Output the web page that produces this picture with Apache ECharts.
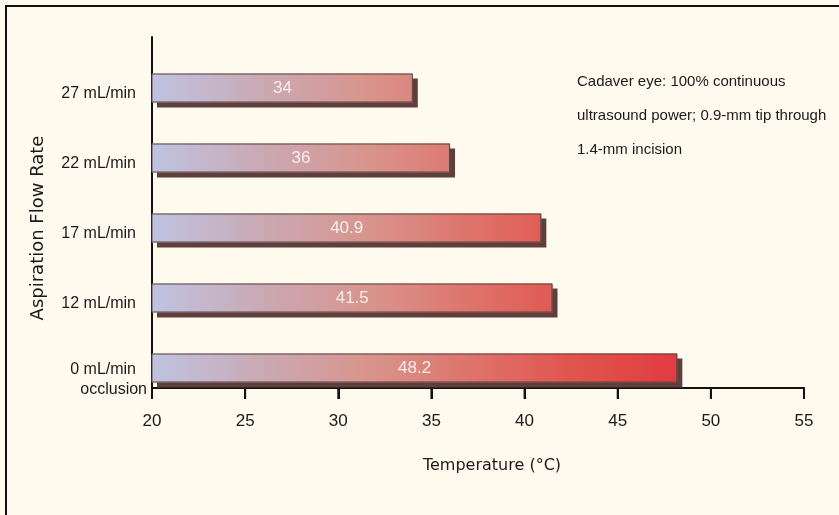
<!DOCTYPE html>
<html>
<head>
<meta charset="utf-8">
<script src="https://cdn.jsdelivr.net/npm/echarts@6/dist/echarts.min.js"></script>
<style>
  html, body { margin: 0; padding: 0; background: #fffaee; }
  #chart { width: 839px; height: 515px; }
</style>
</head>
<body>
<div id="chart"></div>
<script>
// ---- data ----
const categories = ['27 mL/min', '22 mL/min', '17 mL/min', '12 mL/min', '0 mL/min\nocclusion'];
const temperatures = [34, 36, 40.9, 41.5, 48.2];
const xTicks = [20, 25, 30, 35, 40, 45, 50, 55];
const xName = 'Temperature (°C)';
const yName = 'Aspiration Flow Rate';
const noteLines = ['Cadaver eye: 100% continuous', 'ultrasound power; 0.9-mm tip through', '1.4-mm incision'];

const xMin = xTicks[0], xMax = xTicks[xTicks.length - 1], xStep = xTicks[1] - xTicks[0];

// ---- styles ----
const SANS = "'Liberation Sans', Arial, sans-serif";
const DEJAVU = "'DejaVu Sans', sans-serif";
const INK = '#1a1a1a';
const TICK_LEN = 11;

const chart = echarts.init(document.getElementById('chart'), null, { renderer: 'canvas' });

function catLabel(v) {
  return v.split('\n').map((s, i) => (i === 0 ? '{a|' + s + '}' : '{b|' + s + '}')).join('\n');
}

const yData = categories.map(c => c.indexOf('\n') >= 0
  ? { value: c, textStyle: { padding: [24, 0, 0, 0] } }
  : c);

const stops = [
  { offset: 0.00, color: '#bec3e0' },
  { offset: 0.10, color: '#c4b7cd' },
  { offset: 0.20, color: '#c9aab4' },
  { offset: 0.30, color: '#d0a0a4' },
  { offset: 0.40, color: '#d7968e' },
  { offset: 0.49, color: '#db8880' },
  { offset: 0.58, color: '#dc7870' },
  { offset: 0.68, color: '#df6860' },
  { offset: 0.78, color: '#e05850' },
  { offset: 0.88, color: '#e04b47' },
  { offset: 1.00, color: '#e23b40' }
];

const option = {
  backgroundColor: '#fffaee',
  animation: false,
  title: {
    text: noteLines.join('\n'),
    left: 572, top: 60,
    textStyle: { fontFamily: SANS, fontSize: 15, fontWeight: 'normal', color: INK, lineHeight: 34 }
  },
  graphic: {
    elements: [
      { id: 'frameTop', type: 'line', shape: { x1: 5, y1: 6, x2: 839, y2: 6 }, style: { stroke: '#111', lineWidth: 2 } },
      { id: 'frameLeft', type: 'line', shape: { x1: 6, y1: 5, x2: 6, y2: 515 }, style: { stroke: '#111', lineWidth: 2 } }
    ]
  },
  grid: [
    { left: 152, right: 35, top: 53, bottom: 112 },
    { left: 152, right: 35, top: 37, bottom: 127 }
  ],
  xAxis: [
    { gridIndex: 0, type: 'value', min: xMin, max: xMax, interval: xStep, show: false, splitLine: { show: false } },
    {
      gridIndex: 1, type: 'value', min: xMin, max: xMax, interval: xStep,
      axisLine: { show: true, onZero: false, lineStyle: { color: '#111', width: 2 } },
      axisTick: { show: true, inside: false, length: TICK_LEN, lineStyle: { color: '#111', width: 2 } },
      axisLabel: { margin: 25, fontFamily: SANS, fontSize: 17, color: INK },
      splitLine: { show: false },
      name: xName, nameLocation: 'middle', nameGap: 70,
      nameTextStyle: { fontFamily: DEJAVU, fontSize: 16, color: INK, padding: [0, 0, 0, 28] }
    }
  ],
  yAxis: [
    {
      gridIndex: 0, type: 'category', inverse: true, data: yData,
      axisLine: { show: false }, axisTick: { show: false }, splitLine: { show: false },
      axisLabel: {
        margin: 5, padding: [12, 0, 0, 0], formatter: catLabel,
        rich: {
          a: { fontFamily: SANS, fontSize: 16, color: INK, lineHeight: 20, padding: [0, 11, 0, 0] },
          b: { fontFamily: SANS, fontSize: 16, color: INK, lineHeight: 20 }
        }
      },
      name: yName, nameLocation: 'middle', nameGap: 105, nameRotate: 90,
      nameTextStyle: { fontFamily: DEJAVU, fontSize: 18, color: INK }
    },
    {
      gridIndex: 1, type: 'value', min: 0, max: 1,
      axisLine: { show: true, onZero: false, lineStyle: { color: '#111', width: 2 } },
      axisTick: { show: false }, axisLabel: { show: false }, splitLine: { show: false }
    }
  ],
  series: [
    {
      type: 'bar', xAxisIndex: 0, yAxisIndex: 0,
      data: temperatures,
      barWidth: 29,
      itemStyle: {
        color: '#d08080', borderWidth: 0,
        shadowColor: '#5e3f3b', shadowOffsetX: 5, shadowOffsetY: 5, shadowBlur: 0
      },
      label: {
        show: true, position: 'inside', formatter: '{c}',
        fontFamily: SANS, fontSize: 17, color: '#f6eded'
      },
      z: 2
    },
    {
      type: 'bar', xAxisIndex: 0, yAxisIndex: 0,
      data: temperatures,
      barWidth: 29, barGap: '-100%', silent: true,
      itemStyle: { color: 'rgba(0,0,0,0)', borderColor: '#5a4242', borderWidth: 1 },
      label: { show: false },
      z: 3
    }
  ]
};

chart.setOption(option);

// global gradient across the temperature scale (pixel span from axis min to max bar value)
const gx0 = chart.convertToPixel({ xAxisIndex: 0 }, xMin);
const gx1 = chart.convertToPixel({ xAxisIndex: 0 }, Math.max.apply(null, temperatures));

// outward tick marks placed through the axis scale
const axisY = chart.convertToPixel({ yAxisIndex: 1 }, 0);
const tickEls = xTicks.map((v, i) => {
  const px = chart.convertToPixel({ xAxisIndex: 1 }, v);
  return {
    id: 'tick' + i, type: 'line', z: 10,
    shape: { x1: px, y1: axisY, x2: px, y2: axisY + TICK_LEN },
    style: { stroke: '#111', lineWidth: 2 }
  };
});

chart.setOption({
  graphic: { elements: tickEls },
  series: [{
    itemStyle: { color: new echarts.graphic.LinearGradient(gx0, 0, gx1, 0, stops, true) }
  }]
});
</script>
</body>
</html>
